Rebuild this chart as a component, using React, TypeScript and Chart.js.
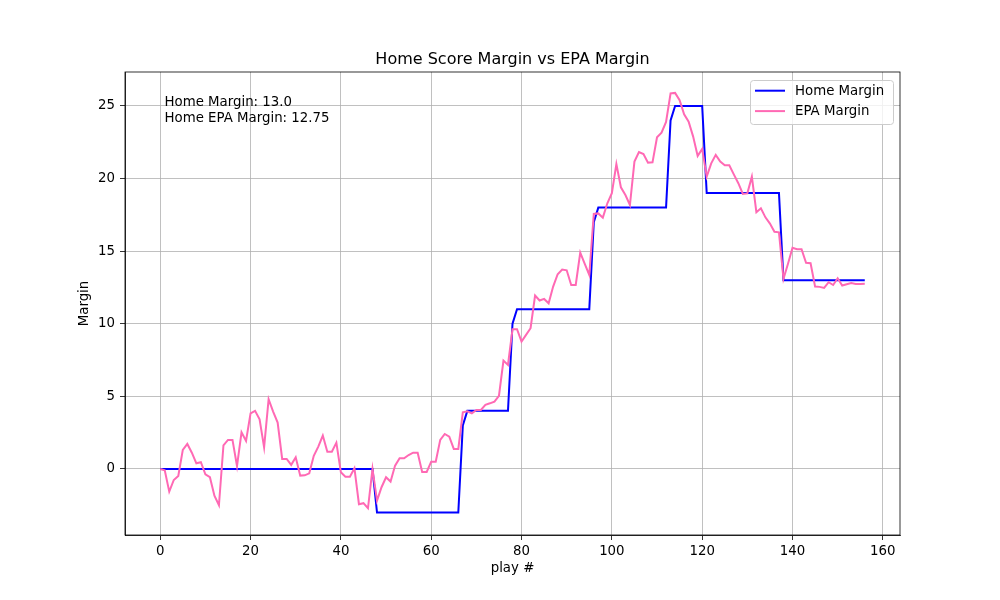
import React, { useEffect, useRef } from "react";
import { Chart, registerables } from "chart.js";

Chart.register(...registerables);

const chartTitle = "Home Score Margin vs EPA Margin";
const xAxisLabel = "play #";
const yAxisLabel = "Margin";
const seriesNames = ["Home Margin", "EPA Margin"];
const seriesColors = ["#0000ff", "#ff69b4"];
const annotationLines = ["Home Margin: 13.0", "Home EPA Margin: 12.75"];

const homeMargin = [
  0, 0, 0, 0, 0, 0, 0, 0, 0, 0, 0, 0, 0, 0, 0, 0, 0, 0, 0, 0,
  0, 0, 0, 0, 0, 0, 0, 0, 0, 0, 0, 0, 0, 0, 0, 0, 0, 0, 0, 0,
  0, 0, 0, 0, 0, 0, 0, 0, -3, -3, -3, -3, -3, -3, -3, -3, -3, -3, -3, -3,
  -3, -3, -3, -3, -3, -3, -3, 3, 4, 4, 4, 4, 4, 4, 4, 4, 4, 4, 10, 11,
  11, 11, 11, 11, 11, 11, 11, 11, 11, 11, 11, 11, 11, 11, 11, 11, 17, 18, 18, 18,
  18, 18, 18, 18, 18, 18, 18, 18, 18, 18, 18, 18, 18, 24, 25, 25, 25, 25, 25, 25,
  25, 19, 19, 19, 19, 19, 19, 19, 19, 19, 19, 19, 19, 19, 19, 19, 19, 19, 13, 13,
  13, 13, 13, 13, 13, 13, 13, 13, 13, 13, 13, 13, 13, 13, 13, 13, 13,
];

const epaMargin = [
  0, -0.1, -1.56, -0.76, -0.48, 1.31, 1.72, 1.12, 0.39, 0.46,
  -0.37, -0.57, -1.84, -2.5, 1.63, 2.0, 2.0, 0.2, 2.52, 1.93,
  3.83, 4.0, 3.42, 1.49, 4.8, 3.95, 3.19, 0.69, 0.69, 0.28,
  0.8, -0.46, -0.44, -0.3, 0.9, 1.54, 2.3, 1.19, 1.19, 1.81,
  -0.23, -0.53, -0.53, 0.05, -2.43, -2.36, -2.71, 0, -2.18, -1.26,
  -0.57, -0.87, 0.23, 0.73, 0.73, 0.96, 1.12, 1.12, -0.21, -0.21,
  0.5, 0.5, 2.0, 2.41, 2.23, 1.38, 1.38, 3.9, 3.97, 3.83,
  4.06, 4.06, 4.41, 4.52, 4.64, 5.03, 7.46, 7.16, 9.62, 9.62,
  8.77, 9.23, 9.69, 11.94, 11.6, 11.71, 11.41, 12.56, 13.41, 13.73,
  13.68, 12.67, 12.67, 14.9, 14.12, 13.36, 17.56, 17.6, 17.31, 18.3,
  18.99, 21.0, 19.4, 18.87, 18.18, 21.17, 21.83, 21.69, 21.1, 21.12,
  22.84, 23.16, 23.9, 25.87, 25.9, 25.4, 24.43, 23.92, 22.89, 21.56,
  22.04, 20.13, 21.05, 21.63, 21.17, 20.92, 20.92, 20.29, 19.68, 18.94,
  18.98, 20.13, 17.68, 17.95, 17.33, 16.9, 16.34, 16.3, 13.1, 14.13,
  15.23, 15.14, 15.14, 14.2, 14.17, 12.56, 12.54, 12.47, 12.86, 12.67,
  13.13, 12.63, 12.72, 12.81, 12.74, 12.74, 12.75,
];

const xTicks = [0, 20, 40, 60, 80, 100, 120, 140, 160];
const yTicks = [0, 5, 10, 15, 20, 25];
const xRange = [-7.8, 163.8];
const yRange = [-4.55, 27.34];

const FONT = '"DejaVu Sans", sans-serif';

const overlayPlugin = {
  id: "overlay",
  afterDatasetsDraw(chart: any) {
    const { ctx, chartArea: a } = chart;
    ctx.save();
    ctx.strokeStyle = "#000";
    ctx.lineWidth = 0.8;
    ctx.strokeRect(a.left, a.top, a.right - a.left, a.bottom - a.top);

    ctx.fillStyle = "#000";
    ctx.font = `16px ${FONT}`;
    ctx.textAlign = "center";
    ctx.textBaseline = "alphabetic";
    ctx.fillText(chartTitle, (a.left + a.right) / 2, 64);

    ctx.font = `13.33px ${FONT}`;
    ctx.textAlign = "left";
    ctx.fillText(annotationLines[0], 164.5, 105.7);
    ctx.fillText(annotationLines[1], 164.5, 121.7);

    const bx = 750.5, by = 80.5, bw = 143, bh = 44, r = 3;
    ctx.beginPath();
    ctx.moveTo(bx + r, by);
    ctx.lineTo(bx + bw - r, by);
    ctx.quadraticCurveTo(bx + bw, by, bx + bw, by + r);
    ctx.lineTo(bx + bw, by + bh - r);
    ctx.quadraticCurveTo(bx + bw, by + bh, bx + bw - r, by + bh);
    ctx.lineTo(bx + r, by + bh);
    ctx.quadraticCurveTo(bx, by + bh, bx, by + bh - r);
    ctx.lineTo(bx, by + r);
    ctx.quadraticCurveTo(bx, by, bx + r, by);
    ctx.closePath();
    ctx.fillStyle = "rgba(255,255,255,0.8)";
    ctx.fill();
    ctx.strokeStyle = "#cccccc";
    ctx.lineWidth = 1;
    ctx.stroke();

    const datasets = chart.data.datasets;
    datasets.forEach((ds: any, i: number) => {
      const ly = 90.7 + i * 20.4;
      ctx.strokeStyle = ds.borderColor;
      ctx.lineWidth = 2;
      ctx.beginPath();
      ctx.moveTo(755, ly);
      ctx.lineTo(785, ly);
      ctx.stroke();
      ctx.fillStyle = "#000";
      ctx.font = `13.33px ${FONT}`;
      ctx.textAlign = "left";
      ctx.textBaseline = "middle";
      ctx.fillText(ds.label, 795, ly + 0.5);
    });
    ctx.restore();
  },
};

export default function App() {
  const canvasRef = useRef<HTMLCanvasElement | null>(null);

  useEffect(() => {
    document.body.style.margin = "0";
    const canvas = canvasRef.current;
    if (!canvas) return;
    Chart.defaults.font.family = FONT;
    Chart.defaults.color = "#000";

    const chart = new Chart(canvas, {
      type: "line",
      data: {
        datasets: [
          {
            label: seriesNames[0],
            data: homeMargin.map((v, i) => ({ x: i, y: v })),
            borderColor: seriesColors[0],
            backgroundColor: seriesColors[0],
            borderWidth: 2,
            pointRadius: 0,
            tension: 0,
            fill: false,
            order: 1,
          },
          {
            label: seriesNames[1],
            data: epaMargin.map((v, i) => ({ x: i, y: v })),
            borderColor: seriesColors[1],
            backgroundColor: seriesColors[1],
            borderWidth: 2,
            pointRadius: 0,
            tension: 0,
            fill: false,
            order: 0,
          },
        ],
      },
      options: {
        responsive: false,
        animation: false,
        layout: { padding: { left: 0, right: 100, top: 72, bottom: 0 } },
        plugins: {
          legend: { display: false },
          title: { display: false },
          tooltip: { enabled: false },
        },
        scales: {
          x: {
            type: "linear",
            min: xRange[0],
            max: xRange[1],
            afterBuildTicks: (s: any) => {
              s.ticks = xTicks.map((v) => ({ value: v }));
            },
            afterFit: (s: any) => {
              s.height = 65;
            },
            grid: {
              color: "#b0b0b0",
              lineWidth: 0.8,
              tickLength: 5,
              tickColor: "#000",
              tickWidth: 0.8,
            },
            border: { display: true, color: "#000", width: 0.8 },
            ticks: {
              color: "#000",
              font: { size: 13.33, family: FONT },
              padding: 4,
              maxRotation: 0,
              autoSkip: false,
            },
            title: {
              display: true,
              text: xAxisLabel,
              color: "#000",
              font: { size: 13.33, family: FONT },
              padding: { top: 0, bottom: 23 },
            },
          },
          y: {
            type: "linear",
            min: yRange[0],
            max: yRange[1],
            afterBuildTicks: (s: any) => {
              s.ticks = yTicks.map((v) => ({ value: v }));
            },
            afterFit: (s: any) => {
              s.width = 125;
            },
            grid: {
              color: "#b0b0b0",
              lineWidth: 0.8,
              tickLength: 5,
              tickColor: "#000",
              tickWidth: 0.8,
            },
            border: { display: true, color: "#000", width: 0.8 },
            ticks: {
              color: "#000",
              font: { size: 13.33, family: FONT },
              padding: 5,
              autoSkip: false,
            },
            title: {
              display: true,
              text: yAxisLabel,
              color: "#000",
              font: { size: 13.33, family: FONT },
              padding: { top: 77, bottom: 0 },
            },
          },
        },
      },
      plugins: [overlayPlugin],
    } as any);

    return () => chart.destroy();
  }, []);

  return (
    <div style={{ position: "absolute", left: 0, top: 0, width: 1000, height: 600 }}>
      <canvas ref={canvasRef} width={1000} height={600} />
    </div>
  );
}
